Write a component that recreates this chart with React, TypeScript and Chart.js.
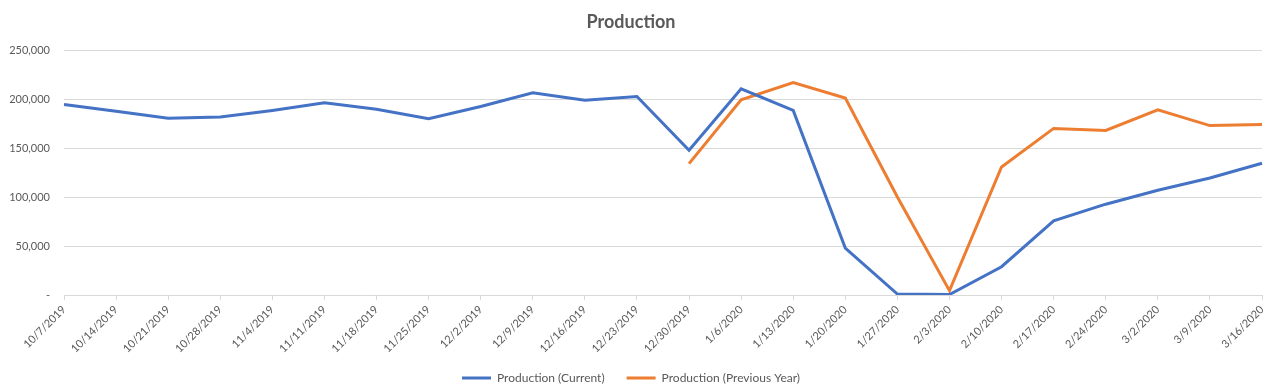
import React, { useEffect, useRef } from "react";
import { Chart, registerables } from "chart.js";

Chart.register(...registerables);

const categories = [
  "10/7/2019", "10/14/2019", "10/21/2019", "10/28/2019", "11/4/2019", "11/11/2019",
  "11/18/2019", "11/25/2019", "12/2/2019", "12/9/2019", "12/16/2019", "12/23/2019",
  "12/30/2019", "1/6/2020", "1/13/2020", "1/20/2020", "1/27/2020", "2/3/2020",
  "2/10/2020", "2/17/2020", "2/24/2020", "3/2/2020", "3/9/2020", "3/16/2020",
];

const productionCurrent = [
  194900, 188000, 180800, 182000, 188800, 196600,
  190000, 180400, 192900, 206800, 199200, 203000,
  148000, 210900, 188800, 48000, 1000, 500,
  28900, 75800, 92900, 107100, 119700, 134800,
];

const productionPrevious = [
  null, null, null, null, null, null,
  null, null, null, null, null, null,
  134400, 199700, 217300, 201400, 100300, 4400,
  131000, 170400, 168300, 189500, 173300, 174300,
];

const yTicks = [0, 50000, 100000, 150000, 200000, 250000];

const FONT = "Lato, 'Liberation Sans', sans-serif";
const GREY = "#595959";
const GRID = "#d9d9d9";

export default function App() {
  const ref = useRef<HTMLCanvasElement | null>(null);

  useEffect(() => {
    const canvas = ref.current;
    if (!canvas) return;
    const chart = new Chart(canvas, {
      type: "line",
      data: {
        labels: categories,
        datasets: [
          {
            label: "Production (Current)",
            data: productionCurrent,
            borderColor: "#4472C4",
            backgroundColor: "#4472C4",
            borderWidth: 3,
            pointRadius: 0,
            tension: 0,
          },
          {
            label: "Production (Previous Year)",
            data: productionPrevious,
            borderColor: "#ED7D31",
            backgroundColor: "#ED7D31",
            borderWidth: 3,
            pointRadius: 0,
            tension: 0,
          },
        ],
      },
      plugins: [
        {
          id: "extendXLabelClip",
          afterLayout(c: any) {
            if (c.scales.x) c.scales.x.bottom = c.height;
          },
        },
      ],
      options: {
        animation: false,
        responsive: false,
        layout: { padding: { left: 0, right: 18, top: 0, bottom: -3 } },
        plugins: {
          title: {
            display: true,
            text: "Production",
            color: GREY,
            font: { family: FONT, size: 18, weight: "bold" },
            padding: { top: 11, bottom: 18 },
          },
          legend: {
            position: "bottom",
            labels: {
              usePointStyle: true,
              pointStyle: "line",
              pointStyleWidth: 29,
              color: GREY,
              font: { family: FONT, size: 12 },
              padding: 22,
            },
          },
          tooltip: { enabled: false },
        },
        scales: {
          x: {
            offset: false,
            grid: {
              drawOnChartArea: false,
              drawTicks: true,
              tickLength: 5,
              color: GRID,
            },
            border: { display: true, color: GRID },
            ticks: {
              autoSkip: false,
              minRotation: 45,
              maxRotation: 45,
              padding: 3,
              color: GREY,
              font: { family: FONT, size: 11 },
            },
            afterFit: (scale: any) => {
              scale.height = 55;
            },
          },
          y: {
            min: 0,
            max: 250000,
            afterBuildTicks: (scale: any) => {
              scale.ticks = yTicks.map((v) => ({ value: v }));
            },
            grid: { color: GRID, drawTicks: false },
            border: { display: false },
            ticks: {
              padding: 14,
              color: GREY,
              font: { family: FONT, size: 11 },
              callback: (v: any) => (Number(v) === 0 ? "-" : Number(v).toLocaleString("en-US")),
            },
            afterFit: (scale: any) => {
              scale.width = 64;
            },
          },
        },
      },
    });
    return () => chart.destroy();
  }, []);

  return (
    <div style={{ position: "fixed", left: 0, top: 0, width: 1280, height: 391, background: "#fff" }}>
      <canvas ref={ref} width={1280} height={391} style={{ display: "block" }} />
    </div>
  );
}
